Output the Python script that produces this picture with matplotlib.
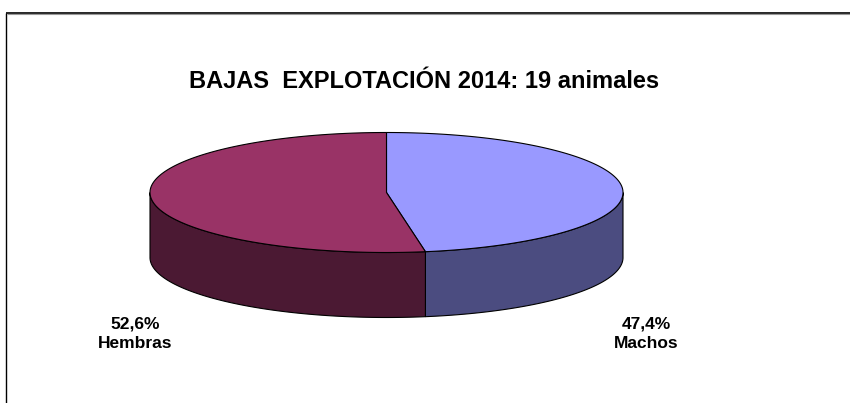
import numpy as np
import matplotlib
matplotlib.use("Agg")
import matplotlib.pyplot as plt
from matplotlib.patches import Polygon

plt.rcParams['font.family'] = ['Liberation Sans', 'DejaVu Sans']

# data
categories = ["Machos", "Hembras"]
counts = [9, 10]
pct_labels = ["47,4%", "52,6%"]
title = "BAJAS  EXPLOTACIÓN 2014: 19 animales"
top_colors = ["#9999FF", "#993366"]
side_colors = ["#4B4C80", "#4B1933"]

W, H = 850, 403
fig = plt.figure(figsize=(W / 100, H / 100), dpi=100)
ax = fig.add_axes([0, 0, 1, 1])
ax.set_xlim(0, W)
ax.set_ylim(H, 0)
ax.axis("off")

cx, cy, a, b, depth = 386.5, 192.5, 236.5, 60.0, 65.0

def pt(theta_deg, dy=0.0):
    t = np.radians(theta_deg)
    return cx + a * np.sin(t), cy - b * np.cos(t) + dy

total = sum(counts)
bounds = np.concatenate([[0], np.cumsum(counts) / total * 360.0])

# side faces (front half: 90..270 deg clockwise from top)
for i in range(len(counts)):
    s, e = bounds[i], bounds[i + 1]
    lo, hi = max(s, 90), min(e, 270)
    if hi > lo:
        th = np.linspace(lo, hi, 200)
        xs, ys = pt(th)
        xs2, ys2 = pt(th[::-1], depth)
        poly = np.column_stack([np.concatenate([xs, xs2]), np.concatenate([ys, ys2])])
        ax.add_patch(Polygon(poly, closed=True, facecolor=side_colors[i],
                             edgecolor="black", linewidth=0.8, zorder=2))

# top faces
for i in range(len(counts)):
    s, e = bounds[i], bounds[i + 1]
    th = np.linspace(s, e, 300)
    xs, ys = pt(th)
    poly = np.column_stack([np.concatenate([[cx], xs]), np.concatenate([[cy], ys])])
    ax.add_patch(Polygon(poly, closed=True, facecolor=top_colors[i],
                         edgecolor="black", linewidth=0.8, zorder=3))

# labels
label_pos = [(646.5, 334), (135.5, 334)]
for i in range(len(counts)):
    x, y = label_pos[i]
    ax.text(x, y, pct_labels[i] + "\n" + categories[i], ha="center", va="center",
            fontsize=12.5, fontweight="bold", linespacing=1.35, zorder=5)

ax.text(424.5, 82, title, ha="center", va="center", fontsize=17, fontweight="bold")

# frame
ax.plot([6, 6], [12.5, H], color="black", linewidth=1.0, solid_capstyle="butt")
ax.plot([6, W], [12.5, 12.5], color="black", linewidth=1.2, solid_capstyle="butt")
ax.plot([7, W], [14, 14], color="#999999", linewidth=0.8, solid_capstyle="butt")

fig.savefig("out.png", dpi=100, facecolor="white")
